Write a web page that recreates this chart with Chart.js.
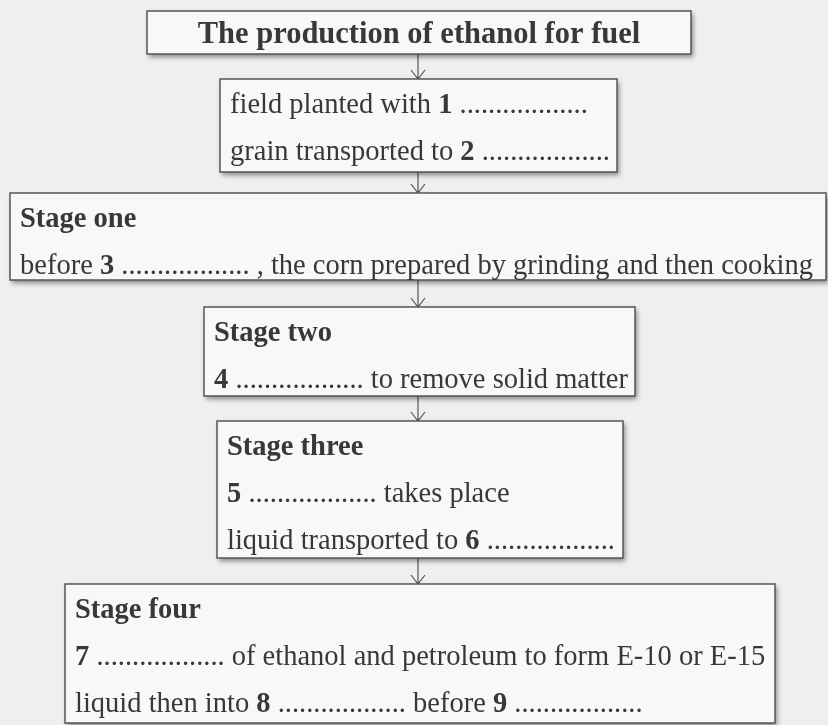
<!DOCTYPE html>
<html>
<head>
<meta charset="utf-8">
<script src="https://cdn.jsdelivr.net/npm/chart.js@4"></script>
<style>
  html, body { margin: 0; padding: 0; background: #efefef; }
  #wrap { width: 828px; height: 725px; position: relative; }
</style>
</head>
<body>
<div id="wrap"><canvas id="flow"></canvas></div>
<script>
// contenido del diagrama
const titleText = 'The production of ethanol for fuel';
const stageNames = [null, 'Stage one', 'Stage two', 'Stage three', 'Stage four'];
// {n} = número en negrita
const stageLines = [
    ['field planted with {1} ..................', 'grain transported to {2} ..................'],
    ['before {3} .................. , the corn prepared by grinding and then cooking'],
    ['{4} .................. to remove solid matter'],
    ['{5} .................. takes place', 'liquid transported to {6} ..................'],
    ['{7} .................. of ethanol and petroleum to form E-10 or E-15', 'liquid then into {8} .................. before {9} ..................']
];

// posiciones de las cajas (en unidades de la escala)
const titleBox = { left: 147, right: 691, top: 11, bottom: 54 };
const boxLeft = [220, 10, 204, 217, 65];
const boxRight = [617, 826, 635, 623, 775];
const boxTop = [79, 193, 307, 421, 584];
const boxBottom = [172, 280, 396, 558, 723];
const arrowX = 418;

const textColor = '#383838';
const lineColor = '#555555';
const bodyFont = '28.5px "Liberation Serif", serif';
const boldFont = 'bold 28.5px "Liberation Serif", serif';
const titleFont = 'bold 30.5px "Liberation Serif", serif';

// dibuja una línea con partes en negrita
function drawRich(ctx, str, x, y) {
    const parts = str.split(/(\{[^}]+\})/);
    parts.forEach(p => {
        if (!p) return;
        let bold = false;
        if (p[0] === '{') { bold = true; p = p.slice(1, -1); }
        ctx.font = bold ? boldFont : bodyFont;
        ctx.fillText(p, x, y);
        x += ctx.measureText(p).width;
    });
}

function drawBox(ctx, xs, ys, l, r, t, b) {
    const x0 = xs.getPixelForValue(l), x1 = xs.getPixelForValue(r);
    const y0 = ys.getPixelForValue(t), y1 = ys.getPixelForValue(b);
    ctx.save();
    ctx.shadowColor = 'rgba(0,0,0,0.45)';
    ctx.shadowBlur = 5;
    ctx.shadowOffsetX = 2;
    ctx.shadowOffsetY = 3;
    ctx.fillStyle = '#f8f8f8';
    ctx.fillRect(x0, y0, x1 - x0, y1 - y0);
    ctx.restore();
    ctx.strokeStyle = lineColor;
    ctx.lineWidth = 1.5;
    ctx.strokeRect(x0, y0, x1 - x0, y1 - y0);
}

function drawArrow(ctx, xs, ys, from, to) {
    const x = xs.getPixelForValue(arrowX);
    const y0 = ys.getPixelForValue(from), y1 = ys.getPixelForValue(to);
    ctx.strokeStyle = lineColor;
    ctx.lineWidth = 1.2;
    ctx.beginPath();
    ctx.moveTo(x, y0);
    ctx.lineTo(x, y1);
    ctx.moveTo(x - 7, y1 - 9);
    ctx.lineTo(x, y1);
    ctx.lineTo(x + 7, y1 - 9);
    ctx.stroke();
}

const flowPlugin = {
    id: 'flowPlugin',
    afterDraw(chart) {
        const ctx = chart.ctx;
        const xs = chart.scales.x, ys = chart.scales.y;
        ctx.save();
        ctx.textBaseline = 'alphabetic';

        // flechas
        drawArrow(ctx, xs, ys, titleBox.bottom, boxTop[0]);
        for (let i = 0; i < boxTop.length - 1; i++) {
            drawArrow(ctx, xs, ys, boxBottom[i], boxTop[i + 1]);
        }

        // caja del título
        drawBox(ctx, xs, ys, titleBox.left, titleBox.right, titleBox.top, titleBox.bottom);
        ctx.fillStyle = textColor;
        ctx.font = titleFont;
        ctx.textAlign = 'center';
        ctx.fillText(titleText, xs.getPixelForValue((titleBox.left + titleBox.right) / 2), ys.getPixelForValue(titleBox.top + 32));
        ctx.textAlign = 'left';

        // cajas de etapas
        stageLines.forEach((lines, i) => {
            drawBox(ctx, xs, ys, boxLeft[i], boxRight[i], boxTop[i], boxBottom[i]);
            ctx.fillStyle = textColor;
            const tx = xs.getPixelForValue(boxLeft[i] + 10);
            let row = 0;
            const all = stageNames[i] ? ['{' + stageNames[i] + '}'].concat(lines) : lines;
            all.forEach(line => {
                const y = ys.getPixelForValue(boxTop[i] + 34 + row * 47);
                drawRich(ctx, line, tx, y);
                row++;
            });
        });
        ctx.restore();
    }
};

new Chart(document.getElementById('flow'), {
    type: 'scatter',
    data: { datasets: [{ data: [] }] },
    options: {
        responsive: true,
        maintainAspectRatio: false,
        animation: false,
        layout: { padding: 0 },
        plugins: { legend: { display: false }, tooltip: { enabled: false } },
        scales: {
            x: { type: 'linear', min: 0, max: 828, display: false },
            y: { type: 'linear', min: 0, max: 725, reverse: true, display: false }
        }
    },
    plugins: [flowPlugin]
});
</script>
</body>
</html>
